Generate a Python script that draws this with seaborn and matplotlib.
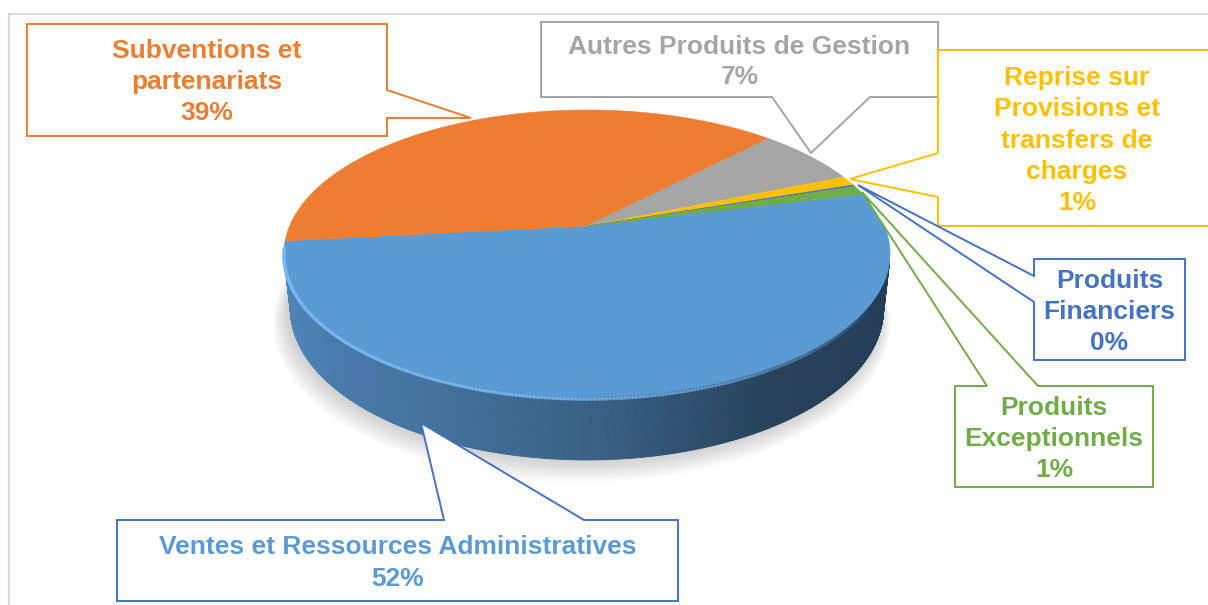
import numpy as np
import matplotlib
matplotlib.use("Agg")
import matplotlib.pyplot as plt
from matplotlib.patches import Polygon
from matplotlib.collections import PolyCollection, LineCollection
from matplotlib.colors import to_rgb
import seaborn as sns

# ---------------- data ----------------
categories = ["Ventes et Ressources Administratives",
              "Subventions et\npartenariats",
              "Autres Produits de Gestion",
              "Reprise sur\nProvisions et\ntransfers de\ncharges",
              "Produits\nFinanciers",
              "Produits\nExceptionnels"]
values = [52.2, 38.9, 6.6, 1.1, 0.2, 1.0]
slice_colors = ["#5B9BD5", "#ED7D31", "#A5A5A5", "#FFC000", "#4472C4", "#70AD47"]
box_colors = ["#4472C4", "#ED7D31", "#A5A5A5", "#FFC000", "#4472C4", "#70AD47"]

sns.set_theme(style="white")
plt.rcParams['font.family'] = ['Liberation Sans', 'DejaVu Sans']
palette = sns.color_palette(slice_colors)

W, H_ = 1208, 605
fig = plt.figure(figsize=(W / 100, H_ / 100), dpi=100)
ax = fig.add_axes([0, 0, 1, 1])
ax.set_xlim(0, W)
ax.set_ylim(H_, 0)
ax.axis("off")

# ---------------- perspective 3D pie ----------------
cx, cy = 587, 226
K, D, phi = 1374.0, 4.62, np.radians(27.7)
HGT = 0.212
start_deg = 14.0


def proj(X, Y, Z):
    depth = D + Y * np.cos(phi) - Z * np.sin(phi)
    return cx + K * X / depth, cy - K * (Y * np.sin(phi) + Z * np.cos(phi)) / depth


# frame
ax.plot([8.5, 8.5], [H_ + 5, 13.5], color="#D9D9D9", lw=1.6, zorder=0)
ax.plot([8.5, W + 5], [13.5, 13.5], color="#D9D9D9", lw=1.6, zorder=0)

# soft shadow under the pie
tt = np.linspace(0, 2 * np.pi, 300)
for i in range(12):
    s = 1.0 + 0.0035 * i
    bx, by = proj(s * np.cos(tt), s * np.sin(tt), -HGT)
    ax.add_patch(Polygon(np.column_stack([bx - 2 - 0.3 * i, by + 1.2 * i]), closed=True,
                         facecolor="#7a7a7a", edgecolor="none", alpha=0.03, zorder=1))

fracs = np.array(values) / np.sum(values)
bounds = start_deg - np.concatenate([[0], np.cumsum(fracs) * 360])


def slice_of(tdeg):
    d = (start_deg - tdeg) % 360
    c = np.cumsum(fracs) * 360
    return int(np.clip(np.searchsorted(c, d, side="right"), 0, len(values) - 1))


# side wall (visible part only)
lim = np.degrees(np.arcsin(1.0 / (D * np.cos(phi))))
t_vis = np.linspace(180 + lim, 360 - lim, 600)
quads, qcols = [], []
xl = proj(np.cos(np.radians(180 + lim)), np.sin(np.radians(180 + lim)), 0)[0]
xr = proj(np.cos(np.radians(360 - lim)), np.sin(np.radians(360 - lim)), 0)[0]
for a, b in zip(t_vis[:-1], t_vis[1:]):
    ra, rb = np.radians(a), np.radians(b)
    p1 = proj(np.cos(ra), np.sin(ra), 0)
    p2 = proj(np.cos(rb), np.sin(rb), 0)
    p3 = proj(np.cos(rb), np.sin(rb), -HGT)
    p4 = proj(np.cos(ra), np.sin(ra), -HGT)
    quads.append([p1, p2, p3, p4])
    u = (p1[0] - xl) / (xr - xl)
    f = np.interp(u, [0, 0.08, 0.5, 0.8, 1.0], [0.86, 0.80, 0.63, 0.43, 0.40])
    base = np.array(to_rgb(palette[slice_of((a + b) / 2)]))
    qcols.append(tuple(np.clip(base * f, 0, 1)))
ax.add_collection(PolyCollection(quads, facecolors=qcols, edgecolors=qcols,
                                 linewidths=0.6, zorder=2))

# top face wedges
for i, col in enumerate(palette):
    a0, a1 = bounds[i], bounds[i + 1]
    ts = np.radians(np.linspace(a0, a1, max(4, int(abs(a0 - a1) * 3))))
    rx, ry = proj(np.cos(ts), np.sin(ts), 0)
    pts = np.vstack([[cx, cy], np.column_stack([rx, ry])])
    ax.add_patch(Polygon(pts, closed=True, facecolor=col, edgecolor=col,
                         lw=0.4, zorder=3))

# rim highlight on the front edge (fading to the right)
th = np.radians(np.linspace(180 + lim - 6, 330, 240))
hx, hy = proj(np.cos(th), np.sin(th), 0)
pts = np.column_stack([hx, hy + 2.0])
segs = np.stack([pts[:-1], pts[1:]], axis=1)
al = np.interp(np.linspace(0, 1, len(segs)), [0, 0.5, 1], [0.9, 0.7, 0.0])
hc = [(0.47, 0.72, 0.95, a) for a in al]
ax.add_collection(LineCollection(segs, colors=hc, linewidths=2.4, zorder=4,
                                 capstyle="round"))

# ---------------- callouts ----------------
def callout(box, side, p0, p1, tip, ec):
    x0, y0, x1, y1 = box
    v = [(x0, y0)]
    if side == "top":
        v += [(p0, y0), tip, (p1, y0)]
    v += [(x1, y0)]
    if side == "right":
        v += [(x1, p0), tip, (x1, p1)]
    v += [(x1, y1)]
    if side == "bottom":
        v += [(p1, y1), tip, (p0, y1)]
    v += [(x0, y1)]
    if side == "left":
        v += [(x0, p1), tip, (x0, p0)]
    ax.add_patch(Polygon(v, closed=True, facecolor="white", edgecolor=ec,
                         lw=1.4, zorder=6, joinstyle="miter"))


callouts = [
    ((117, 520, 678, 601), "top", 444, 584, (421, 423)),
    ((27, 24, 387, 136), "right", 90, 118, (471, 118)),
    ((541, 22, 938, 97), "bottom", 772, 870, (811, 153)),
    ((938, 50, 1216, 226), "left", 153, 197, (850, 179)),
    ((1034, 259, 1185, 360), "left", 276, 302, (858, 185)),
    ((955, 386, 1153, 487), "top", 987, 1038, (862, 192)),
]

for i, (box, side, p0, p1, tip) in enumerate(callouts):
    callout(box, side, p0, p1, tip, box_colors[i])
    lines = categories[i].split("\n") + [f"{round(fracs[i] * 100):d}%"]
    xc = (box[0] + box[2]) / 2
    yc = (box[1] + box[3]) / 2
    n = len(lines)
    for j, ln in enumerate(lines):
        yl = yc + (j - (n - 1) / 2) * 31
        ax.text(xc, yl + 9.5, ln, ha="center", va="baseline", fontsize=19,
                fontweight="bold", color=slice_colors[i], zorder=7)

fig.savefig("out.png", dpi=100)
